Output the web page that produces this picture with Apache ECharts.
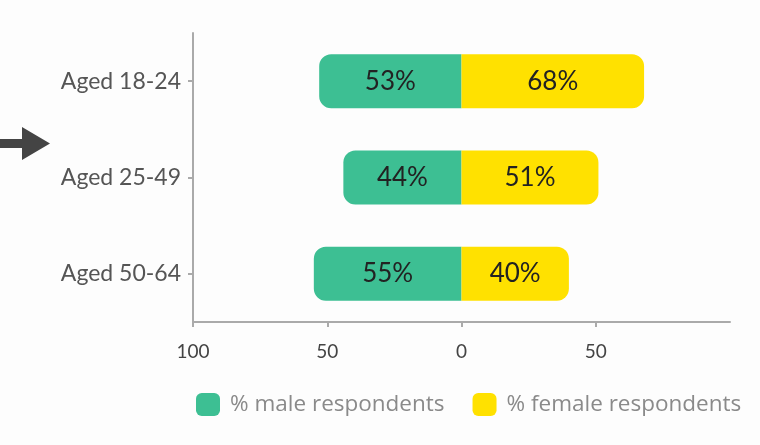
<!DOCTYPE html>
<html>
<head>
<meta charset="utf-8">
<script src="https://cdn.jsdelivr.net/npm/echarts@6/dist/echarts.min.js"></script>
<style>
  html, body { margin: 0; padding: 0; background: #fdfdfd; }
  #chart { width: 760px; height: 445px; }
</style>
</head>
<body>
<div id="chart"></div>
<script>
// Age groups shown top to bottom
const ageGroups = ['Aged 18-24', 'Aged 25-49', 'Aged 50-64'];
// Share of respondents per group (percent)
const maleShare = [53, 44, 55];
const femaleShare = [68, 51, 40];
// Axis tick positions (signed) and legend names
const tickValues = [-100, -50, 0, 50];
const seriesNames = ['% male respondents', '% female respondents'];

const FONT = 'Lato, "Noto Sans", sans-serif';
const GREEN = '#3dbf93';
const YELLOW = '#ffe100';

const chart = echarts.init(document.getElementById('chart'), null, { renderer: 'canvas' });

chart.setOption({
  backgroundColor: '#fdfdfd',
  animation: false,
  grid: { left: 193, right: 30, top: 33, bottom: 123, containLabel: false },
  xAxis: {
    type: 'value',
    min: -100,
    max: 100,
    interval: 50,
    axisLine: { show: true, lineStyle: { color: '#aaaaaa', width: 2 } },
    axisTick: { show: true, length: 5, customValues: tickValues, lineStyle: { color: '#aaaaaa', width: 2 } },
    axisLabel: {
      customValues: tickValues,
      formatter: v => String(Math.abs(v)),
      color: '#444',
      fontSize: 19,
      fontFamily: FONT,
      margin: 20
    },
    splitLine: { show: false }
  },
  yAxis: {
    type: 'category',
    inverse: true,
    data: ageGroups,
    axisLine: { show: true, onZero: false, lineStyle: { color: '#aaaaaa', width: 2 } },
    axisTick: { show: true, alignWithLabel: true, length: 5, lineStyle: { color: '#aaaaaa', width: 2 } },
    axisLabel: { color: '#555', fontSize: 23, fontFamily: FONT, margin: 12 }
  },
  legend: {
    left: 196,
    top: 393,
    padding: 0,
    itemWidth: 24,
    itemHeight: 23,
    itemGap: 28,
    icon: 'roundRect',
    textStyle: {
      color: '#8a8a8a',
      fontSize: 22.5,
      fontFamily: '"Open Sans", sans-serif',
      padding: [0, 0, 0, 5]
    },
    data: seriesNames
  },
  series: [
    {
      name: seriesNames[0],
      type: 'bar',
      stack: 'total',
      barWidth: 54,
      data: maleShare.map(v => -v),
      itemStyle: { color: GREEN, borderRadius: [12, 0, 0, 12] },
      label: {
        show: true,
        position: 'inside',
        formatter: p => Math.abs(p.value) + '%',
        color: '#222',
        fontSize: 26,
        fontFamily: FONT
      }
    },
    {
      name: seriesNames[1],
      type: 'bar',
      stack: 'total',
      barWidth: 54,
      data: femaleShare,
      itemStyle: { color: YELLOW, borderRadius: [0, 12, 12, 0] },
      label: {
        show: true,
        position: 'inside',
        formatter: p => p.value + '%',
        color: '#222',
        fontSize: 26,
        fontFamily: FONT
      }
    }
  ],
  graphic: [
    {
      type: 'polygon',
      shape: { points: [[0, 139], [22, 139], [22, 127], [50, 143.5], [22, 160], [22, 148], [0, 148]] },
      style: { fill: '#444' }
    }
  ]
});
</script>
</body>
</html>
